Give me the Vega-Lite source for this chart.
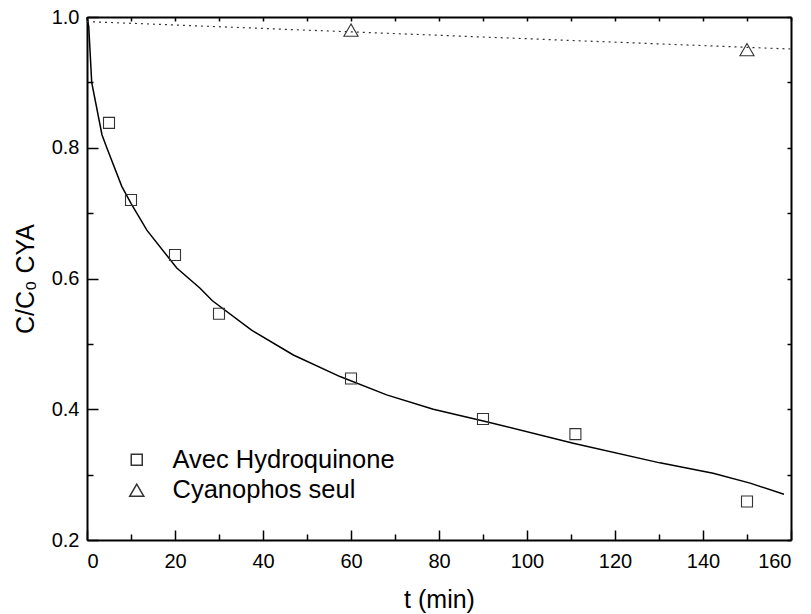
{
  "$schema": "https://vega.github.io/schema/vega-lite/v6.json",
  "width": 704,
  "height": 523,
  "autosize": {"type": "none"},
  "padding": {"left": 87, "top": 17, "right": 20, "bottom": 74},
  "background": "white",
  "config": {
    "view": {"stroke": null},
    "font": "Liberation Sans",
    "axis": {
      "grid": false,
      "domainColor": "black",
      "tickColor": "black",
      "labelColor": "black",
      "titleColor": "black",
      "labelFont": "Liberation Sans",
      "titleFont": "Liberation Sans",
      "labelFontSize": 20,
      "titleFontSize": 25,
      "titleFontWeight": "normal",
      "domainWidth": 2,
      "tickWidth": 1.5
    },
    "legend": {
      "labelFont": "Liberation Sans",
      "labelFontSize": 25.5,
      "labelColor": "black",
      "labelLimit": 0
    }
  },
  "datasets": {
    "fit": [
      {"t": 0, "v": 1.0},
      {"t": 0.4, "v": 0.985},
      {"t": 1.07, "v": 0.9},
      {"t": 3.4, "v": 0.82},
      {"t": 4.5, "v": 0.8},
      {"t": 7.9, "v": 0.741},
      {"t": 10, "v": 0.715},
      {"t": 13.6, "v": 0.674},
      {"t": 20.4, "v": 0.616},
      {"t": 25.7, "v": 0.585},
      {"t": 28.5, "v": 0.566},
      {"t": 37.4, "v": 0.521},
      {"t": 46.9, "v": 0.483},
      {"t": 57.5, "v": 0.45},
      {"t": 68.1, "v": 0.422},
      {"t": 78.7, "v": 0.4},
      {"t": 90.8, "v": 0.381},
      {"t": 110.5, "v": 0.348},
      {"t": 130.2, "v": 0.318},
      {"t": 142.3, "v": 0.302},
      {"t": 150.7, "v": 0.287},
      {"t": 158.4, "v": 0.27}
    ],
    "dotted": [
      {"t": 0, "v": 0.993},
      {"t": 160, "v": 0.951}
    ],
    "pts": [
      {"t": 5, "v": 0.838, "series": "Avec Hydroquinone"},
      {"t": 10, "v": 0.72, "series": "Avec Hydroquinone"},
      {"t": 20, "v": 0.636, "series": "Avec Hydroquinone"},
      {"t": 30, "v": 0.546, "series": "Avec Hydroquinone"},
      {"t": 60, "v": 0.447, "series": "Avec Hydroquinone"},
      {"t": 90, "v": 0.385, "series": "Avec Hydroquinone"},
      {"t": 111, "v": 0.362, "series": "Avec Hydroquinone"},
      {"t": 150, "v": 0.259, "series": "Avec Hydroquinone"},
      {"t": 60, "v": 0.98, "series": "Cyanophos seul"},
      {"t": 150, "v": 0.95, "series": "Cyanophos seul"}
    ]
  },
  "layer": [
    {
      "data": {"name": "fit"},
      "mark": {"type": "line", "color": "black", "strokeWidth": 1.5, "interpolate": "linear"},
      "encoding": {
        "x": {
          "field": "t", "type": "quantitative",
          "scale": {"domain": [0, 160], "nice": false},
          "axis": {
            "orient": "bottom",
            "values": [0, 20, 40, 60, 80, 100, 120, 140, 160],
            "tickSize": -10,
            "labelPadding": 21,
            "title": "t (min)",
            "titlePadding": 16
          }
        },
        "y": {
          "field": "v", "type": "quantitative",
          "scale": {"domain": [0.2, 1.0], "nice": false, "zero": false},
          "axis": {
            "orient": "left",
            "values": [0.2, 0.4, 0.6, 0.8, 1.0],
            "format": ".1f",
            "tickSize": -11,
            "labelPadding": 19,
            "title": "C/C₀ CYA",
            "titlePadding": 13
          }
        }
      }
    },
    {
      "data": {"name": "dotted"},
      "mark": {"type": "line", "color": "#333333", "strokeWidth": 1.2, "strokeDash": [2, 4]},
      "encoding": {
        "x": {
          "field": "t", "type": "quantitative",
          "scale": {"domain": [0, 160], "nice": false},
          "axis": {
            "orient": "top",
            "values": [0, 10, 20, 30, 40, 50, 60, 70, 80, 90, 100, 110, 120, 130, 140, 150, 160],
            "tickSize": -4,
            "labels": false,
            "title": null
          }
        },
        "y": {
          "field": "v", "type": "quantitative",
          "scale": {"domain": [0.2, 1.0], "nice": false, "zero": false},
          "axis": {
            "orient": "right",
            "values": [0.2, 0.3, 0.4, 0.5, 0.6, 0.7, 0.8, 0.9, 1.0],
            "tickSize": -4,
            "labels": false,
            "title": null
          }
        }
      }
    },
    {
      "data": {"name": "pts"},
      "mark": {"type": "point", "filled": false, "color": "#333333", "strokeWidth": 1.1, "opacity": 1},
      "encoding": {
        "x": {
          "field": "t", "type": "quantitative",
          "scale": {"domain": [0, 160], "nice": false},
          "axis": {
            "orient": "bottom",
            "values": [10, 30, 50, 70, 90, 110, 130, 150],
            "tickSize": -6,
            "labels": false,
            "domain": false,
            "title": null
          }
        },
        "y": {
          "field": "v", "type": "quantitative",
          "scale": {"domain": [0.2, 1.0], "nice": false, "zero": false},
          "axis": {
            "orient": "left",
            "values": [0.3, 0.5, 0.7, 0.9],
            "tickSize": -6,
            "labels": false,
            "domain": false,
            "title": null
          }
        },
        "shape": {
          "field": "series", "type": "nominal",
          "scale": {"domain": ["Avec Hydroquinone", "Cyanophos seul"], "range": ["square", "triangle-up"]},
          "legend": {
            "orient": "none",
            "legendX": 37,
            "legendY": 430,
            "title": null,
            "labelOffset": 23,
            "rowPadding": 3.5,
            "padding": 0
          }
        },
        "size": {
          "field": "series", "type": "nominal",
          "scale": {"domain": ["Avec Hydroquinone", "Cyanophos seul"], "range": [121, 200]}
        }
      }
    }
  ],
  "resolve": {"axis": {"x": "independent", "y": "independent"}}
}
